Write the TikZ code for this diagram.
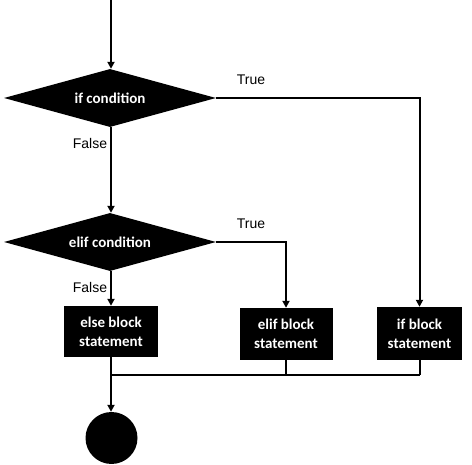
\documentclass[tikz,border=0pt]{standalone}
\usepackage{fontspec}
\setmainfont{Liberation Sans}
\newfontfamily\nodefont{Carlito}
\usetikzlibrary{shapes.geometric,arrows.meta}
\begin{document}
\begin{tikzpicture}[x=1pt,y=-1pt,
  cond/.style={diamond,fill=black,text=white,inner sep=0pt,minimum width=212pt,minimum height=58pt,aspect=3.65,font=\nodefont\bfseries\fontsize{15}{17}\selectfont},
  blockbox/.style={rectangle,fill=black,text=white,inner sep=0pt,align=center,font=\nodefont\bfseries\fontsize{15}{19}\selectfont},
  lbl/.style={font=\fontsize{14}{16}\selectfont},
  conn/.style={line width=2pt},
  arr/.style={conn,-{Triangle[width=7pt,length=7pt]}}]
\useasboundingbox (0,0) rectangle (472,465);
\coordinate (start) at (111,0);
\node[cond] (d1) at (110,98) {if condition};
\node[cond] (d2) at (110,242) {elif condition};
\node[blockbox,minimum width=94pt,minimum height=51pt] (else) at (111,331.5) {else block\\statement};
\node[blockbox,minimum width=93pt,minimum height=52pt] (elif) at (286,334) {elif block\\statement};
\node[blockbox,minimum width=85pt,minimum height=53pt] (if) at (419.5,333.5) {if block\\statement};
\node[circle,fill=black,inner sep=0pt,minimum size=52pt] (end) at (111.5,438) {};
\coordinate (m1) at (111,375);
\coordinate (m2) at (286,375);
\coordinate (m3) at (419.5,375);
\draw[arr] (start) -- (start |- d1.north);
\draw[arr] (d1.east) -| (if.north);
\draw[arr] (d1.south -| start) -- (start |- d2.north);
\draw[arr] (d2.east) -| (elif.north);
\draw[arr] (d2.south -| start) -- (else.north -| start);
\draw[arr] (else.south -| start) -- (end.north -| start);
\draw[conn] (elif.south) -- (m2);
\draw[conn] (if.south) -- (m3);
\draw[conn] (m1) -- (m3);
\node[lbl] (t1) at (251,80) {True};
\node[lbl] (t2) at (251,224) {True};
\node[lbl] (f1) at (90,143) {False};
\node[lbl] (f2) at (90,287) {False};
\end{tikzpicture}
\end{document}
